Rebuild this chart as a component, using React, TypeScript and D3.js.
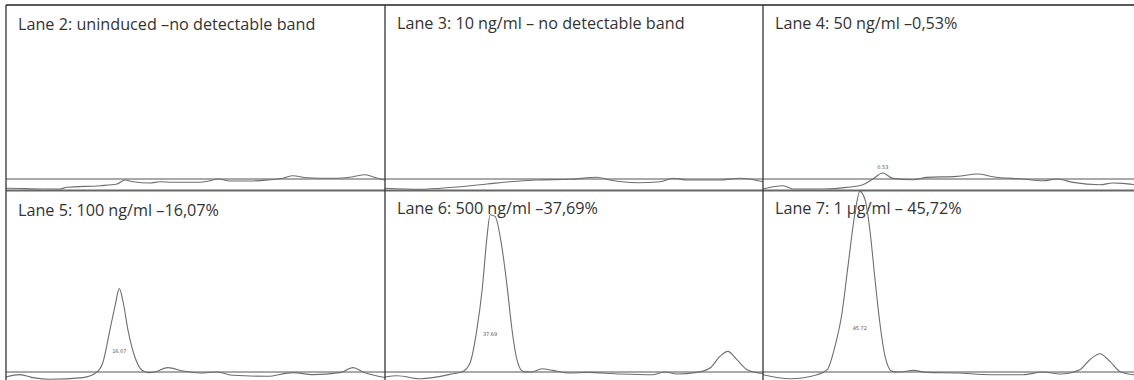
import { useEffect, useRef } from "react";
import * as d3 from "d3";

// densitometry traces, position along lane (%) vs. intensity above baseline
const laneTitles = [
  "Lane 2: uninduced \u2013no detectable band",
  "Lane 3: 10 ng/ml \u2013 no detectable band",
  "Lane 4: 50 ng/ml \u20130,53%",
  "Lane 5: 100 ng/ml \u201316,07%",
  "Lane 6: 500 ng/ml \u201337,69%",
  "Lane 7: 1 \u00b5g/ml \u2013 45,72%",
];

const peakLabels = ["", "", "0.53", "16.07", "37.69", "45.72"];

const lane2 = [
  [0, -9.3], [0.3, -9.3], [9.8, -10], [14.2, -10], [16.1, -8.3], [24.8, -6.7], [29.3, -5], [31.4, -1],
  [33.5, -2.7], [38, -4], [40.6, -2.7], [44.1, -3.3], [51.2, -3.3], [53.8, -1.7], [55.9, 0],
  [59.1, -2], [64.4, -2], [69.7, -0.7], [73.1, 0.7], [75.7, 3.3], [79.4, 1.3], [86.3, 0.7],
  [91.6, 2.3], [94.7, 4.3], [96.8, 2.3], [98.7, 0], [100, -1],
];

const lane3 = [
  [0, -9.3], [9.3, -10.3], [18, -8.3], [27, -5], [33, -2.7], [40.2, -1], [48.9, -0.3], [56.1, 1.7],
  [59.5, -1], [66.7, -3.7], [72.8, -2.7], [76.3, 0.7], [80, -1], [88.6, -1], [93.9, 0.7], [100, -2.7],
];

const lane4 = [
  [0, -10], [5.4, -6.7], [8.1, -10], [16.2, -10], [22.6, -8.4], [26.9, -5.7], [29.6, 0], [32.3, 6],
  [35, 0.6], [40.4, -0.7], [44.2, 1.6], [52.3, 2.6], [57.9, 5], [61.9, 2.3], [70, 0], [75.5, -1.7],
  [79.2, 0], [83.6, -3.4], [90.8, -5.7], [94.3, -4], [97, -4.4], [100, -5.7],
];

const lane5 = [
  [0, -5], [3.7, -2.6], [7.1, -5.6], [11.6, -7.3], [20.3, -5.6], [24, 0], [25.6, 10], [27.4, 41.7],
  [28.8, 66.7], [29.9, 83.4], [30.9, 70], [32.2, 41.7], [34, 15], [35.9, 1.7], [37.5, -0.6],
  [39.3, 0], [42.7, 4.4], [46.7, 1], [51.2, -1], [55.7, 0], [59.9, -3.3], [68.9, -4.3],
  [75.7, -0.6], [81, -2.6], [88.1, -0.6], [91.6, 4.4], [94.2, 0], [100, -5.5],
];

const lane6 = [
  [0, -5], [3.2, -3.7], [9.3, -6.7], [18, -1.7], [20.6, 0.6], [22.5, 9], [24.3, 42.3], [25.7, 82.3],
  [27, 135.6], [27.8, 157.3], [29.1, 155.6], [30.9, 125.6], [32.3, 85.6], [33.6, 42.3], [34.9, 12.3],
  [36.5, 0.6], [38.9, 0], [41.5, 3.3], [44.4, 1.6], [48.9, -1], [53.4, -0.4], [62.2, -2], [70.9, -2.7],
  [74.1, 0], [77.2, -2], [82.5, -0.4], [86, 4], [88.6, 15.6], [90.7, 20.6], [93.1, 12.3], [95.8, 2.3],
  [100, -1.5],
];

const lane7 = [
  [0, -2.7], [7.3, -6.7], [14.6, -2.7], [17.3, 2.3], [19.4, 25.6], [21.3, 59], [22.9, 105.6],
  [24.8, 159], [26.1, 180.6], [27.5, 172.3], [28.8, 142.3], [30.2, 92.3], [31.5, 49], [32.9, 15.6],
  [34.8, 0.6], [36.9, 0], [40.4, 1.6], [44.2, -0.4], [52.3, -1], [61.2, -2.7], [70.1, -2.7],
  [75.5, 0], [80.1, -2], [85.4, 2.3], [88.1, 12.3], [90.8, 18.3], [93.5, 10.6], [96.2, 0.6], [100, -2.7],
];

const lanes = [lane2, lane3, lane4, lane5, lane6, lane7];

export default function App() {
  const ref = useRef<SVGSVGElement>(null);

  useEffect(() => {
    const width = 1134;
    const height = 380;
    const colEdges = [6, 385, 763, 1134];
    const top = 5;
    const rowSplit = 190.5;
    const baselines = [179, 372];
    const titleY = [[30, 29, 29], [216, 214, 214]];

    const svg = d3.select(ref.current);
    svg.selectAll("*").remove();
    svg.attr("width", width).attr("height", height);

    const line = d3.line<number[]>().curve(d3.curveMonotoneX);

    lanes.forEach((data, i) => {
      const row = Math.floor(i / 3);
      const col = i % 3;
      const x = d3.scaleLinear().domain([0, 100]).range([colEdges[col], colEdges[col + 1]]);
      const y = d3.scaleLinear().domain([0, 180]).range([baselines[row], baselines[row] - 180]);
      const g = svg.append("g");

      g.append("text")
        .attr("x", colEdges[col] + 12)
        .attr("y", titleY[row][col])
        .attr("font-family", "'Open Sans', sans-serif")
        .attr("font-size", 16.2)
        .attr("fill", "#333")
        .text(laneTitles[i]);

      g.append("line")
        .attr("x1", x(0)).attr("x2", x(100))
        .attr("y1", y(0)).attr("y2", y(0))
        .attr("stroke", "#555")
        .attr("stroke-width", 1);

      line.x(d => x(d[0])).y(d => y(d[1]));
      g.append("path")
        .attr("d", line(data))
        .attr("fill", "none")
        .attr("stroke", "#6e6e6e")
        .attr("stroke-width", 1.1);

      if (peakLabels[i]) {
        const peak = data.reduce((a, b) => (b[1] > a[1] ? b : a));
        const level = peak[1] < 20 ? peak[1] + 4 : peak[1] * 0.23;
        g.append("text")
          .attr("x", x(peak[0]))
          .attr("y", y(level))
          .attr("text-anchor", "middle")
          .attr("font-family", "'DejaVu Sans', sans-serif")
          .attr("font-size", 5)
          .attr("fill", "#555")
          .text(peakLabels[i]);
      }
    });

    // panel frame
    const frame = svg.append("g").attr("fill", "none");
    frame.append("line")
      .attr("x1", colEdges[0]).attr("x2", width).attr("y1", top).attr("y2", top)
      .attr("stroke", "#222").attr("stroke-width", 1.5);
    frame.append("line")
      .attr("x1", colEdges[0]).attr("x2", width).attr("y1", rowSplit).attr("y2", rowSplit)
      .attr("stroke", "#666").attr("stroke-width", 2);
    colEdges.slice(0, 3).forEach(cx => {
      frame.append("line")
        .attr("x1", cx).attr("x2", cx).attr("y1", top).attr("y2", height)
        .attr("stroke", "#333").attr("stroke-width", 1.3);
    });
  }, []);

  return <svg ref={ref} style={{ position: "absolute", left: 0, top: 0, display: "block" }} />;
}
